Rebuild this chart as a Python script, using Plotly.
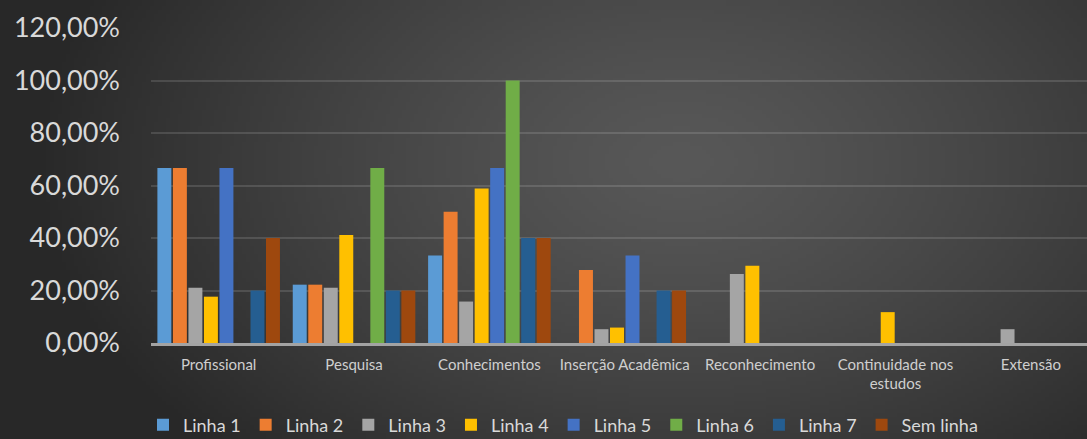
import base64
import struct
import zlib

import numpy as np
import plotly.graph_objects as go

# ---- data -------------------------------------------------------------
categories = [
    "Profissional",
    "Pesquisa",
    "Conhecimentos",
    "Inserção Acadêmica",
    "Reconhecimento",
    "Continuidade nos<br>estudos",
    "Extensão",
]

linha_1 = [0.6667, 0.2222, 0.3333, 0.0, 0.0, 0.0, 0.0]
linha_2 = [0.6667, 0.2222, 0.5000, 0.2778, 0.0, 0.0, 0.0]
linha_3 = [0.2105, 0.2105, 0.1579, 0.0526, 0.2632, 0.0, 0.0526]
linha_4 = [0.1765, 0.4118, 0.5882, 0.0588, 0.2941, 0.1176, 0.0]
linha_5 = [0.6667, 0.0, 0.6667, 0.3333, 0.0, 0.0, 0.0]
linha_6 = [0.0, 0.6667, 1.0000, 0.0, 0.0, 0.0, 0.0]
linha_7 = [0.2000, 0.2000, 0.4000, 0.2000, 0.0, 0.0, 0.0]
sem_linha = [0.4000, 0.2000, 0.4000, 0.2000, 0.0, 0.0, 0.0]

series_names = ["Linha 1", "Linha 2", "Linha 3", "Linha 4",
                "Linha 5", "Linha 6", "Linha 7", "Sem linha"]
series_values = [linha_1, linha_2, linha_3, linha_4,
                 linha_5, linha_6, linha_7, sem_linha]
series_colors = ["#5B9BD5", "#ED7D31", "#A5A5A5", "#FFC000",
                 "#4472C4", "#70AD47", "#255E91", "#9E480E"]

y_ticks = [0, 0.2, 0.4, 0.6, 0.8, 1.0, 1.2]

# ---- figure geometry ----------------------------------------------------
W, H = 1087, 439
M_L, M_R, M_T, M_B = 151, 0, 28, 96
plot_w = W - M_L - M_R
plot_h = H - M_T - M_B


def png_data_uri(rgb):
    """Encode an HxWx3 uint8 array as a PNG data URI."""
    h, w, _ = rgb.shape
    raw = b"".join(b"\x00" + rgb[r].tobytes() for r in range(h))

    def chunk(tag, data):
        c = struct.pack(">I", len(data)) + tag + data
        return c + struct.pack(">I", zlib.crc32(tag + data) & 0xFFFFFFFF)

    png = b"\x89PNG\r\n\x1a\n"
    png += chunk(b"IHDR", struct.pack(">IIBBBBB", w, h, 8, 2, 0, 0, 0))
    png += chunk(b"IDAT", zlib.compress(raw, 9))
    png += chunk(b"IEND", b"")
    return "data:image/png;base64," + base64.b64encode(png).decode()


# dark radial backdrop, lighter towards the upper middle
step = 4
gx = np.arange(0, W, step)[None, :].astype(float)
gy = np.arange(0, H, step)[:, None].astype(float)
d = np.sqrt(((gx - 680) / 650) ** 2 + ((gy - 160) / 420) ** 2)
t = np.clip(d, 0, 1) ** 1.3
level = 88 - (88 - 40) * t
backdrop = np.repeat(level[:, :, None], 3, axis=2).astype(np.uint8)

fig = go.Figure()
for name, vals, col in zip(series_names, series_values, series_colors):
    fig.add_trace(go.Bar(
        name=name,
        x=categories,
        y=vals,
        marker=dict(color=col, line=dict(width=0)),
    ))

fig.add_layout_image(dict(
    source=png_data_uri(backdrop),
    xref="paper", yref="paper",
    x=-M_L / plot_w, y=1 + M_T / plot_h,
    sizex=W / plot_w, sizey=H / plot_h,
    xanchor="left", yanchor="top",
    sizing="stretch", layer="below",
))

fig.update_layout(
    width=W, height=H,
    margin=dict(l=M_L, r=M_R, t=M_T, b=M_B, pad=0, autoexpand=False),
    paper_bgcolor="#2c2c2c",
    plot_bgcolor="rgba(0,0,0,0)",
    separators=",.",
    barmode="group",
    bargap=0.083,
    bargroupgap=0.1,
    font=dict(family="Lato, 'Open Sans', sans-serif", color="#d9d9d9"),
    showlegend=True,
    legend=dict(
        orientation="h",
        xref="container", yref="container",
        x=563 / W, xanchor="center",
        y=(H - 425) / H, yanchor="middle",
        font=dict(size=18, color="#d9d9d9"),
        bgcolor="rgba(0,0,0,0)",
        itemwidth=30,
        tracegroupgap=0,
    ),
)

fig.update_xaxes(
    range=[-0.5, 6.415],
    automargin=False,
    showgrid=False,
    showline=True, linecolor="#a3a3a3", linewidth=2.5,
    ticks="",
    ticklabelstandoff=6,
    tickfont=dict(size=15, color="#cfcfcf"),
)

fig.update_yaxes(
    range=[0, 1.2],
    automargin=False,
    tickvals=y_ticks,
    tickformat=".2%",
    showgrid=True, gridcolor="rgba(255,255,255,0.13)", gridwidth=1.5,
    zeroline=False,
    showline=False,
    ticks="",
    ticklabelstandoff=30,
    tickfont=dict(size=27, color="#d9d9d9"),
)

fig.write_html("out.html")
